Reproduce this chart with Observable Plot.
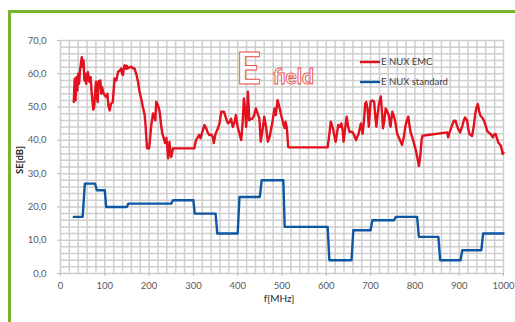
<!DOCTYPE html>
<html><head><meta charset="utf-8">
<script src="https://cdn.jsdelivr.net/npm/d3@7"></script>
<script src="https://cdn.jsdelivr.net/npm/@observablehq/plot@0.6"></script>
<style>
body{margin:0;background:#fff;}
#wrap{position:relative;width:515px;height:322px;overflow:hidden;font-family:Lato,"Open Sans",sans-serif;}
#wrap svg{position:absolute;left:0;top:0;}
#frame{position:absolute;left:8px;top:10px;width:600px;height:400px;border-left:3px solid #7ab32e;border-top:3px solid #7ab32e;}
</style></head>
<body><div id="wrap"><div id="frame"></div></div>
<script>
const xTicks = [0,100,200,300,400,500,600,700,800,900,1000];
const yTicks = [0,10,20,30,40,50,60,70];
const seriesNames = ["E NUX EMC","E NUX standard"];

const emcFreq = [30,32,34,36,38,40,42,44,46,48,50,52,54,56,58,60,62,64,66,68,70,72,74,76,78,80,82,84,86,88,90,92,94,96,100,104,106,108,111,114,118,120,122,126,130,134,137,139,141,143,145,148,150,152,156,160,164,167,171,175,178,182,186,190,192,194,195.5,200,205,209,212,214,216,220,224,227,230,233,236,239,241,243,246,248,250,254,302,306,310,313,316,320,325,329,332,336,340,344,346,350,355,359,363,369,374,378,382,385,389,393,396,400,404,408,411,414,417,419,421,423,425,426,430,433,437,441,445,449,452,456,460,464,468,472,475,479,483,486,490,494,498,502,506,508,511,514,516,603,607,610,615,618,621,624,627,631,634,637,639,643,646,649,652,658,663,667,670,673,678,682,685,688,690,693,696,700,704,708,710,713,716,719,723,726,728,731,734,738,741,745,749,752,755,760,765,771,775,779,782,785,790,797,802,806,809,812,815,817,873,875,878,881,885,888,892,895,898,902,907,910,913,918,920,923,929,933,936,939,942,945,948,952,956,960,963,967,971,976,979,982,985,988,991,994,996,998,1000];
const emcSE = [51.5,58.5,52,59,55,60,57,61,63,65,62,64,58,60,57,59.5,60.5,58,57.5,59,55,52,49.2,50,54,57.6,53,51.5,57.8,56,58,54,56,54.6,53.5,53,54,50.5,49,51,51.5,55,58.6,58,60.6,61,61.6,60,59.6,61.8,62.6,61.5,62.4,61.6,62,62.1,61.6,61.6,60,57.6,55,52.6,50,47.6,44.6,40.1,37.6,37.6,44.6,48.1,47,46,51.6,50.6,48.6,44.6,42,40.7,39.2,40.7,38,34.6,39.5,36,35,37.6,37.6,40.1,41,41.6,40.6,42.5,44.6,43.6,42.5,41.6,41.8,41,39.2,42,43.5,45.1,48.6,48.6,46.5,45.1,45.5,46.5,44,45.5,47.6,44,42,40.1,45,52.6,49,44,48,54.6,50,46,46.5,46.5,47.5,49.6,48,46.5,39.6,43,47.1,44,39.6,41,43.1,46,49.6,47.6,52.1,50,47.6,45.5,43.7,45.6,43.7,38,37.9,37.9,42,45.6,43.6,41.5,39.6,42,44.6,44,45.1,43,39.6,44,47.1,44.5,42.6,42.6,41.6,40.1,41,42,45.1,42,46,51.1,51.5,49.6,44.1,51.6,52,51.6,48,44.1,48,51.1,53.2,48,43.6,46,49.6,48.5,47.6,44.1,48.6,47.5,46.1,42,40.5,38.6,41,44.6,46,47.1,42.6,39.6,37.1,34.5,32.3,35,40,41.4,42.4,40.9,42.3,43.4,44.9,45.9,45.8,44.4,43.3,42.4,44.3,45.8,46.9,45.9,43.8,41.9,41.3,44.3,47.9,49.8,50.9,48.8,47.4,46.8,45.9,44.3,42.9,42.3,41.9,40.9,41.8,41.9,40.8,39.4,38.9,38.4,37.3,35.9,36.3];

const stdFreq = [30,50,55,78,82,100,103,150,153,250,254,300,303,350,354,400,404,450,454,503,506,603,607,657,661,700,704,753,757,805,809,853,857,903,907,950,954,1000];
const stdSE   = [17,17,27,27,25,25,20,20,21,21,22,22,18,18,12,12,23,23,28,28,14,14,4,4,13,13,16,16,17,17,11,11,4,4,7,7,12,12];

const emc = emcFreq.map((f,i)=>({f, v: emcSE[i]}));
const std = stdFreq.map((f,i)=>({f, v: stdSE[i]}));
const gridX = d3.range(0, 1001, 20);
const gridY = d3.range(0, 71, 2);
const red = "#e3101e", blue = "#0f57a3";

const chart = Plot.plot({
  width: 515, height: 322,
  marginLeft: 60, marginRight: 12, marginTop: 40, marginBottom: 49,
  style: {fontFamily: "Lato, 'Open Sans', sans-serif", fontSize: "9.5px", color: "#595959", background: "transparent"},
  x: {domain: [0, 1000]},
  y: {domain: [0, 70]},
  marks: [
    Plot.ruleX(gridX, {stroke: "#cecece", strokeWidth: 1.5}),
    Plot.ruleY(gridY, {stroke: "#cecece", strokeWidth: 1.5}),
    Plot.axisX({ticks: xTicks, tickSize: 3, tickPadding: 6, tickFormat: d => String(d), label: null, stroke: "#bbb"}),
    Plot.axisY({ticks: yTicks, tickSize: 3, tickPadding: 11, tickFormat: d => d.toFixed(1).replace(".", ","), label: null, stroke: "#bbb"}),
    Plot.line(std, {x: "f", y: "v", stroke: blue, strokeWidth: 2.4, curve: "linear"}),
    Plot.line(emc, {x: "f", y: "v", stroke: red, strokeWidth: 2.4, curve: "linear", strokeLinejoin: "round"})
  ]
});
const wrap = document.getElementById("wrap");
wrap.insertBefore(chart, document.getElementById("frame"));

// overlay: logo, legend, axis titles
const ov = d3.select(wrap).append("svg").attr("width", 515).attr("height", 322).style("pointer-events","none");
ov.append("text").attr("x", 236).attr("y", 84).text("E")
  .attr("font-family","Lato, sans-serif").attr("font-weight","bold").attr("font-size", 44)
  .attr("fill","#fff").attr("stroke","#e8524a").attr("stroke-width",0.9);
ov.append("text").attr("x", 273).attr("y", 84).text("field")
  .attr("font-family","Lato, sans-serif").attr("font-weight","bold").attr("font-size", 21)
  .attr("fill","#fff").attr("stroke","#e8524a").attr("stroke-width",0.9);
const leg = [{name: seriesNames[0], color: red, y: 62},{name: seriesNames[1], color: blue, y: 82}];
leg.forEach(l => {
  ov.append("line").attr("x1",360).attr("x2",380).attr("y1",l.y).attr("y2",l.y).attr("stroke",l.color).attr("stroke-width",2.4);
  ov.append("text").attr("x",381).attr("y",l.y).attr("dy","0.35em").text(l.name)
    .attr("font-family","Lato, sans-serif").attr("font-size",9.5).attr("fill","#404040");
});
ov.append("text").attr("x", 279).attr("y", 298).attr("dy","0.35em").attr("text-anchor","middle").text("f[MHz]")
  .attr("font-family","Lato, sans-serif").attr("font-size",10).attr("fill","#262626");
ov.append("text").attr("transform","translate(20,160) rotate(-90)").attr("dy","0.35em").attr("text-anchor","middle").text("SE[dB]")
  .attr("font-family","Lato, sans-serif").attr("font-size",9.5).attr("font-weight","bold").attr("fill","#262626");
</script>
</body></html>
